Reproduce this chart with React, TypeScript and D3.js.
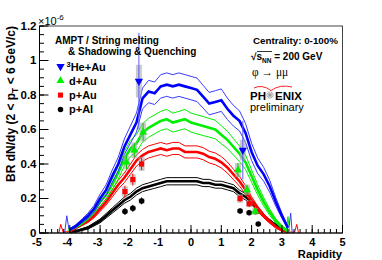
import React from 'react';
import * as d3 from 'd3';

// rapidity grid at which the model curves were read
const rapGrid = [-4.0, -3.8, -3.6, -3.4, -3.2, -3.0, -2.8, -2.6, -2.4, -2.2, -2.0, -1.8, -1.6, -1.4, -1.2, -1.0, -0.8, -0.6, -0.4, -0.2, 0.0, 0.2, 0.4, 0.6, 0.8, 1.0, 1.2, 1.4, 1.6, 1.8, 2.0, 2.2, 2.4, 2.6, 2.8, 3.0, 3.2];

// AMPT central values (units of 1e-6)
const heCurve = [0.02, 0.04, 0.07, 0.10, 0.14, 0.20, 0.25, 0.33, 0.40, 0.50, 0.57, 0.64, 0.78, 0.82, 0.81, 0.85, 0.86, 0.85, 0.86, 0.85, 0.84, 0.83, 0.79, 0.75, 0.76, 0.77, 0.72, 0.68, 0.65, 0.58, 0.47, 0.39, 0.34, 0.27, 0.18, 0.10, 0.03];
const dCurve = [0.02, 0.035, 0.06, 0.09, 0.13, 0.18, 0.22, 0.28, 0.35, 0.43, 0.49, 0.52, 0.58, 0.61, 0.63, 0.65, 0.66, 0.64, 0.65, 0.66, 0.64, 0.63, 0.62, 0.61, 0.60, 0.57, 0.54, 0.50, 0.46, 0.41, 0.33, 0.25, 0.18, 0.12, 0.07, 0.035, 0.01];
const pAuCurve = [0.01, 0.03, 0.05, 0.07, 0.10, 0.14, 0.18, 0.23, 0.28, 0.32, 0.37, 0.42, 0.45, 0.47, 0.48, 0.49, 0.48, 0.49, 0.49, 0.47, 0.47, 0.47, 0.46, 0.44, 0.43, 0.41, 0.38, 0.34, 0.30, 0.25, 0.19, 0.14, 0.10, 0.065, 0.035, 0.015, 0.005];
const pAlCurve = [0.005, 0.01, 0.02, 0.03, 0.05, 0.07, 0.10, 0.13, 0.16, 0.19, 0.21, 0.24, 0.26, 0.27, 0.28, 0.29, 0.30, 0.30, 0.30, 0.30, 0.30, 0.30, 0.29, 0.29, 0.28, 0.28, 0.27, 0.26, 0.23, 0.21, 0.18, 0.14, 0.10, 0.07, 0.045, 0.025, 0.01];

// half widths of the model bands
const heBand = [0.005, 0.008, 0.01, 0.015, 0.02, 0.025, 0.03, 0.035, 0.04, 0.045, 0.05, 0.055, 0.06, 0.065, 0.065, 0.068, 0.068, 0.068, 0.068, 0.068, 0.068, 0.068, 0.066, 0.065, 0.065, 0.065, 0.062, 0.06, 0.058, 0.055, 0.05, 0.045, 0.04, 0.035, 0.025, 0.015, 0.008];
const dBand = [0.005, 0.007, 0.01, 0.013, 0.018, 0.022, 0.027, 0.032, 0.037, 0.042, 0.047, 0.05, 0.053, 0.055, 0.055, 0.055, 0.056, 0.055, 0.055, 0.056, 0.055, 0.055, 0.055, 0.054, 0.054, 0.052, 0.05, 0.048, 0.045, 0.042, 0.036, 0.03, 0.024, 0.018, 0.012, 0.008, 0.004];
const pAuBand = [0.003, 0.005, 0.007, 0.009, 0.012, 0.015, 0.018, 0.022, 0.025, 0.028, 0.03, 0.032, 0.034, 0.035, 0.035, 0.035, 0.035, 0.035, 0.035, 0.035, 0.035, 0.035, 0.035, 0.034, 0.034, 0.033, 0.032, 0.03, 0.028, 0.025, 0.02, 0.016, 0.012, 0.009, 0.006, 0.004, 0.002];
const pAlBand = [0.002, 0.003, 0.005, 0.007, 0.009, 0.011, 0.013, 0.015, 0.017, 0.018, 0.019, 0.02, 0.02, 0.02, 0.021, 0.021, 0.021, 0.021, 0.021, 0.021, 0.021, 0.021, 0.021, 0.021, 0.02, 0.02, 0.02, 0.02, 0.019, 0.018, 0.016, 0.014, 0.011, 0.008, 0.006, 0.004, 0.002];

// edge spikes of the model curves: [rapidity, value]
const heSpikeL: [number, number][] = [[-4.17, 0], [-4.1, 0.10], [-4.03, 0.025], [-4.0, 0.02]];
const heSpikeR: [number, number][] = [[3.2, 0.03], [3.24, 0.04], [3.29, 0.115], [3.34, 0]];
const dSpikeL: [number, number][] = [[-4.08, 0], [-4.03, 0.035], [-4.0, 0.02]];
const dSpikeR: [number, number][] = [[3.2, 0.01], [3.15, 0.02], [3.2, 0.095], [3.26, 0]];
const pAuSpikeL: [number, number][] = [[-4.36, 0], [-4.3, 0.05], [-4.22, 0.005], [-4.0, 0.01]];
const pAuSpikeR: [number, number][] = [[3.2, 0.005], [3.42, 0.005], [3.49, 0.05], [3.55, 0]];

// PHENIX points: rapidity, value, stat error, syst error
const heRap = [-1.72, 1.71];
const heVal = [0.88, 0.48];
const heStat = [0.28, 0.17];
const heSys = [0.095, 0.06];

const dRap = [-2.13, -1.87, -1.58, 1.55, 1.85, 2.12];
const dVal = [0.41, 0.48, 0.585, 0.365, 0.25, 0.125];
const dStat = [0.04, 0.04, 0.05, 0.04, 0.03, 0.02];
const dSys = [0.04, 0.045, 0.055, 0.04, 0.03, 0.02];

const pAuRap = [-2.18, -1.92, -1.63, 1.62, 1.92, 2.22];
const pAuVal = [0.24, 0.31, 0.40, 0.20, 0.17, 0.125];
const pAuStat = [0.035, 0.035, 0.035, 0.02, 0.02, 0.015];
const pAuSys = [0.03, 0.03, 0.04, 0.025, 0.02, 0.015];

const pAlRap = [-2.18, -1.92, -1.63, 1.62, 1.92, 2.22];
const pAlVal = [0.125, 0.143, 0.186, 0.128, 0.118, 0.052];
const pAlStat = [0.02, 0.02, 0.02, 0.015, 0.015, 0.012];
const pAlSys = [0.012, 0.014, 0.016, 0.012, 0.012, 0.008];

const xTickLabels = ['-5', '-4', '-3', '-2', '-1', '0', '1', '2', '3', '4', '5'];
const yTickLabels = ['0', '0.2', '0.4', '0.6', '0.8', '1', '1.2'];

const FONT = '"Liberation Sans", Arial, Helvetica, sans-serif';

const x = d3.scaleLinear().domain([-5, 5]).range([39.5, 342.5]);
const y = d3.scaleLinear().domain([0, 1.2]).range([233, 26]);

const line = d3.line<[number, number]>().x(d => x(d[0])).y(d => y(d[1]));

type Series = {
  curve: number[];
  band: number[];
  color: string;
  thin: string;
  spikes: [number, number][][];
  rap: number[];
  val: number[];
  stat: number[];
  sys: number[];
  symbol: d3.SymbolType;
  size: number;
  rotate: number;
  barColor: string;
};

const series: Series[] = [
  { curve: pAlCurve, band: pAlBand, color: '#000000', thin: '#000000', spikes: [], rap: pAlRap, val: pAlVal, stat: pAlStat, sys: pAlSys, symbol: d3.symbolCircle, size: 24, rotate: 0, barColor: '#000000' },
  { curve: pAuCurve, band: pAuBand, color: '#ff0000', thin: '#ff0000', spikes: [pAuSpikeL, pAuSpikeR], rap: pAuRap, val: pAuVal, stat: pAuStat, sys: pAuSys, symbol: d3.symbolSquare, size: 26, rotate: 0, barColor: '#ff0000' },
  { curve: dCurve, band: dBand, color: '#00ee00', thin: '#00ee00', spikes: [dSpikeL, dSpikeR], rap: dRap, val: dVal, stat: dStat, sys: dSys, symbol: d3.symbolTriangle, size: 28, rotate: 0, barColor: '#00cc00' },
  { curve: heCurve, band: heBand, color: '#0000ff', thin: '#3a3aff', spikes: [heSpikeL, heSpikeR], rap: heRap, val: heVal, stat: heStat, sys: heSys, symbol: d3.symbolTriangle, size: 30, rotate: 180, barColor: '#5a5aff' },
];

const legendItems = [
  { label: 'He+Au', sup: '3', color: '#0000ff', symbol: d3.symbolTriangle, size: 30, rotate: 180 },
  { label: 'd+Au', sup: '', color: '#00ee00', symbol: d3.symbolTriangle, size: 28, rotate: 0 },
  { label: 'p+Au', sup: '', color: '#ff0000', symbol: d3.symbolSquare, size: 26, rotate: 0 },
  { label: 'p+Al', sup: '', color: '#000000', symbol: d3.symbolCircle, size: 24, rotate: 0 },
];

export default function App() {
  const majorX = d3.range(-5, 5.001, 1);
  const minorX = d3.range(-5, 5.001, 0.2);
  const majorY = d3.range(0, 1.2001, 0.2);
  const minorY = d3.range(0, 1.2001, 0.05);

  return (
    <svg width={382} height={260} style={{ position: 'absolute', left: 0, top: 0, background: '#fff' }} fontFamily={FONT}>
      <rect x={0} y={0} width={382} height={260} fill="#fff" />

      {/* model bands and curves */}
      {series.map((s, i) => {
        const c: [number, number][] = rapGrid.map((r, k) => [r, s.curve[k]]);
        const up: [number, number][] = rapGrid.map((r, k) => [r, s.curve[k] + s.band[k]]);
        const lo: [number, number][] = rapGrid.map((r, k) => [r, Math.max(0, s.curve[k] - s.band[k])]);
        return (
          <g key={'c' + i} fill="none">
            <path d={line(up) || ''} stroke={s.thin} strokeWidth={1} />
            <path d={line(lo) || ''} stroke={s.thin} strokeWidth={1} />
            <path d={line(c) || ''} stroke={s.color} strokeWidth={2.6} />
            {s.spikes.map((sp, j) => (
              <path key={j} d={line(sp) || ''} stroke={s.thin} strokeWidth={1} />
            ))}
          </g>
        );
      })}

      {/* systematic boxes */}
      {series.map((s, i) => (
        <g key={'b' + i}>
          {s.rap.map((r, k) => (
            <rect key={k} x={x(r) - 3} y={y(s.val[k] + s.sys[k])} width={6}
              height={y(s.val[k] - s.sys[k]) - y(s.val[k] + s.sys[k])}
              fill="#a8a8a8" fillOpacity={0.6} />
          ))}
        </g>
      ))}

      {/* stat errors and markers */}
      {series.map((s, i) => (
        <g key={'m' + i}>
          {s.rap.map((r, k) => (
            <g key={k}>
              <line x1={x(r)} x2={x(r)} y1={y(s.val[k] + s.stat[k])} y2={y(s.val[k] - s.stat[k])}
                stroke={s.barColor} strokeWidth={1} />
              <path transform={`translate(${x(r)},${y(s.val[k])}) rotate(${s.rotate})`}
                d={d3.symbol().type(s.symbol).size(s.size)() || ''} fill={s.color} />
            </g>
          ))}
        </g>
      ))}

      {/* frame */}
      <rect x={39.5} y={26} width={303} height={207} fill="none" stroke="#444" strokeWidth={1} />

      {/* x axis */}
      <line x1={39.5} x2={342.5} y1={233} y2={233} stroke="#000" />
      {minorX.map((t, i) => (
        <line key={'mx' + i} x1={x(t)} x2={x(t)} y1={233} y2={229} stroke="#000" />
      ))}
      {majorX.map((t, i) => (
        <g key={'Mx' + i}>
          <line x1={x(t)} x2={x(t)} y1={233} y2={225} stroke="#000" />
          <text x={x(t) - (t < 0 ? 2.5 : 0)} y={245.8} textAnchor="middle" fontSize={11} fontWeight="bold">{xTickLabels[i]}</text>
        </g>
      ))}
      <text x={342} y={257.5} textAnchor="end" fontSize={11.2} fontWeight="bold">Rapidity</text>

      {/* y axis */}
      <line x1={39.5} x2={39.5} y1={26} y2={233} stroke="#000" />
      {minorY.map((t, i) => (
        <line key={'my' + i} x1={39.5} x2={44} y1={y(t)} y2={y(t)} stroke="#000" />
      ))}
      {majorY.map((t, i) => (
        <g key={'My' + i}>
          <line x1={39.5} x2={48.5} y1={y(t)} y2={y(t)} stroke="#000" />
          <text x={36.5} y={y(t) + 3.6} textAnchor="end" fontSize={11.5} fontWeight="bold">{yTickLabels[i]}</text>
        </g>
      ))}
      <text x={38} y={25} fontSize={11}>×10<tspan dy={-5} fontSize={8}>-6</tspan></text>
      <text transform="translate(14.5,26) rotate(-90)" textAnchor="end" fontSize={12} fontWeight="bold">
        BR dN/dy (2 &lt; p<tspan dy={3} fontSize={8.5}>T</tspan><tspan dy={-3}> &lt; 6 GeV/c)</tspan>
      </text>

      {/* model label and legend */}
      <text x={55} y={44} fontSize={10} fontWeight="bold">AMPT / String melting</text>
      <text x={68} y={55} fontSize={10} fontWeight="bold">&amp; Shadowing &amp; Quenching</text>
      {legendItems.map((it, i) => {
        const by = 70.5 + i * 14.3;
        return (
          <g key={'l' + i}>
            <path transform={`translate(60.5,${by - 4}) rotate(${it.rotate})`}
              d={d3.symbol().type(it.symbol).size(it.size)() || ''} fill={it.color} />
            {it.sup ? (
              <text x={66.5} y={by} fontSize={11} fontWeight="bold"><tspan dy={-4} fontSize={7.5}>{it.sup}</tspan><tspan dy={4}>{it.label}</tspan></text>
            ) : (
              <text x={69} y={by} fontSize={11} fontWeight="bold">{it.label}</text>
            )}
          </g>
        );
      })}

      {/* collision info */}
      <text x={253} y={44} fontSize={9.8} fontWeight="bold">Centrality: 0-100%</text>
      <text x={251} y={60} fontSize={10} fontWeight="bold">√<tspan>s</tspan><tspan dy={2.5} fontSize={6.5}>NN</tspan><tspan dy={-2.5}> = 200 GeV</tspan></text>
      <line x1={257} x2={272} y1={51.5} y2={51.5} stroke="#000" strokeWidth={0.8} />
      <text x={252} y={75.5} fontSize={11.5} fontFamily='"Liberation Serif", "DejaVu Serif", serif' fill="#000">φ → μμ</text>

      {/* PHENIX logo */}
      <path d="M254,88 Q262,84 271,90.5 Q280,84 292,87" fill="none" stroke="#ff2020" strokeWidth={1} />
      <text x={250} y={99.5} fontSize={11.5} fontWeight="bold">PH</text>
      <g transform="translate(270,95)" stroke="#9a9a9a" strokeWidth={0.8}>
        {d3.range(0, 360, 30).map(a => (
          <line key={a} x1={0} y1={0} x2={4 * Math.cos((a * Math.PI) / 180)} y2={4 * Math.sin((a * Math.PI) / 180)} />
        ))}
      </g>
      <text x={275} y={99.5} fontSize={11.5} fontWeight="bold">ENIX</text>
      <text x={250} y={111} fontSize={11}>preliminary</text>
    </svg>
  );
}
